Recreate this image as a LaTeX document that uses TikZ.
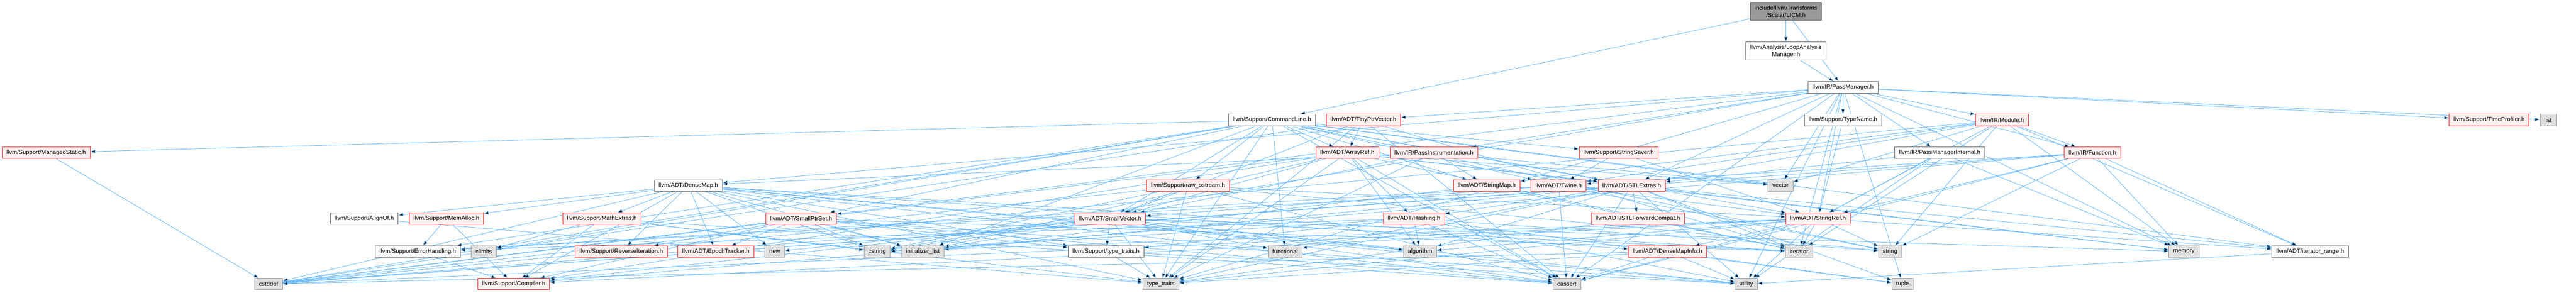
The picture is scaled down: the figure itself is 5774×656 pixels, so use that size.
\documentclass[tikz,border=0pt]{standalone}
\usepackage{fontspec}
\setmainfont{Liberation Sans}
\usepackage{xcolor}
\usetikzlibrary{arrows.meta,backgrounds}

\definecolor{depblue}{HTML}{63B8FF}
\definecolor{hdrborder}{HTML}{666666}
\definecolor{sysborder}{HTML}{999999}
\definecolor{sysfill}{HTML}{E0E0E0}
\definecolor{truncfill}{HTML}{FFF0F0}

\tikzset{
  hdr/.style={draw=hdrborder, fill=white, line width=0.75pt, inner xsep=7.3pt, inner ysep=0pt,
    minimum height=19.5pt, font=\fontsize{10}{12}\selectfont},
  hdrtrunc/.style={hdr, draw=red!85!white, fill=truncfill},
  syshdr/.style={hdr, draw=sysborder, fill=sysfill},
  roothdr/.style={hdr, fill=sysborder},
  twoline/.style={align=center, minimum height=30.75pt},
  dep/.style={draw=depblue, line width=0.75pt, -{Triangle[length=8pt,width=6pt]}}
}

\begin{document}
\begin{tikzpicture}[x=0.75pt,y=-0.75pt]
\useasboundingbox (0,0) rectangle (5774,656);

\node (licm) at (4003,25.5) [roothdr, twoline] {include/llvm/Transforms\\/Scalar/LICM.h};
\node (lam) at (4003,114.5) [hdr, twoline] {llvm/Analysis/LoopAnalysis\\Manager.h};
\node (pm) at (4131,196) [hdr] {llvm/IR/PassManager.h};

\node (cmdline) at (2851,269) [hdr] {llvm/Support/CommandLine.h};
\node (tinyptr) at (3056,269) [hdrtrunc] {llvm/ADT/TinyPtrVector.h};
\node (typename) at (4131,269) [hdr] {llvm/Support/TypeName.h};
\node (module) at (4487,269) [hdrtrunc] {llvm/IR/Module.h};
\node (timeprof) at (5579,269) [hdrtrunc] {llvm/Support/TimeProfiler.h};
\node (list) at (5711,269) [syshdr] {list};

\node (managedstatic) at (103.5,342.5) [hdrtrunc] {llvm/Support/ManagedStatic.h};
\node (arrayref) at (3020,342.5) [hdrtrunc] {llvm/ADT/ArrayRef.h};
\node (passinstr) at (3214,342.5) [hdrtrunc] {llvm/IR/PassInstrumentation.h};
\node (stringsaver) at (3628,342.5) [hdrtrunc] {llvm/Support/StringSaver.h};
\node (pminternal) at (4348,342.5) [hdr] {llvm/IR/PassManagerInternal.h};
\node (function) at (4690,342.5) [hdrtrunc] {llvm/IR/Function.h};

\node (densemap) at (1543,416) [hdr] {llvm/ADT/DenseMap.h};
\node (rawostream) at (2663,416) [hdrtrunc] {llvm/Support/raw\_ostream.h};
\node (stringmap) at (3332.5,416) [hdrtrunc] {llvm/ADT/StringMap.h};
\node (twine) at (3493.5,416) [hdrtrunc] {llvm/ADT/Twine.h};
\node (stlextras) at (3657.5,416) [hdrtrunc] {llvm/ADT/STLExtras.h};
\node (vector) at (3991,416) [syshdr] {vector};

\node (alignof) at (816.5,490) [hdr] {llvm/Support/AlignOf.h};
\node (memalloc) at (1000.5,490) [hdrtrunc] {llvm/Support/MemAlloc.h};
\node (mathextras) at (1349,490) [hdrtrunc] {llvm/Support/MathExtras.h};
\node (smallptrset) at (1795.5,490) [hdrtrunc] {llvm/ADT/SmallPtrSet.h};
\node (smallvector) at (2488.5,490) [hdrtrunc] {llvm/ADT/SmallVector.h};
\node (hashing) at (3169.5,490) [hdrtrunc] {llvm/ADT/Hashing.h};
\node (stlfwd) at (3671,490) [hdrtrunc] {llvm/ADT/STLForwardCompat.h};
\node (stringref) at (4075,490) [hdrtrunc] {llvm/ADT/StringRef.h};

\node (errorhandling) at (936.5,564) [hdr] {llvm/Support/ErrorHandling.h};
\node (climits) at (1084.5,564) [syshdr] {climits};
\node (reverseiter) at (1392.5,564) [hdrtrunc] {llvm/Support/ReverseIteration.h};
\node (epoch) at (1604.5,564) [hdrtrunc] {llvm/ADT/EpochTracker.h};
\node (new) at (1736.5,564) [syshdr] {new};
\node (cstring) at (1966,564) [syshdr] {cstring};
\node (initlist) at (2068.5,564) [syshdr] {initializer\_list};
\node (suptypetraits) at (2479,564) [hdr] {llvm/Support/type\_traits.h};
\node (functional) at (2880.5,564) [syshdr] {functional};
\node (algorithm) at (3183,564) [syshdr] {algorithm};
\node (densemapinfo) at (3737.5,564) [hdrtrunc] {llvm/ADT/DenseMapInfo.h};
\node (iterator) at (4032.5,564) [syshdr] {iterator};
\node (string) at (4236.5,564) [syshdr] {string};
\node (memory) at (4895,564) [syshdr] {memory};
\node (iterrange) at (5178,564) [hdr] {llvm/ADT/iterator\_range.h};

\node (cstddef) at (602,637) [syshdr] {cstddef};
\node (compiler) at (1151.5,637) [hdrtrunc] {llvm/Support/Compiler.h};
\node (typetraits) at (2602,637) [syshdr] {type\_traits};
\node (cassert) at (3512,637) [syshdr] {cassert};
\node (utility) at (3914,637) [syshdr] {utility};
\node (tuple) at (4264.5,637) [syshdr] {tuple};

\begin{scope}[on background layer]
\draw[dep] (licm) edge (lam) edge (pm) edge (cmdline);
\draw[dep] (lam) edge (pm);
\draw[dep] (pm) edge (densemap) edge (stlextras) edge (smallptrset) edge (stringref) edge (tinyptr) edge (function) edge (module) edge (passinstr) edge (pminternal) edge (timeprof) edge (typename) edge (cassert) edge (cstring) edge (iterator) edge (list) edge (memory) edge (tuple) edge (typetraits) edge (utility) edge (vector);
\draw[dep] (cmdline) edge (arrayref) edge (stlextras) edge (smallptrset) edge (smallvector) edge (stringmap) edge (stringref) edge (twine) edge (iterrange) edge (errorhandling) edge (managedstatic) edge (stringsaver) edge (rawostream) edge (cassert) edge (climits) edge (cstddef) edge (functional) edge (initlist) edge (string) edge (typetraits) edge (vector);
\draw[dep] (tinyptr) edge (arrayref) edge (smallvector) edge (cassert) edge (cstddef) edge (iterator) edge (typetraits);
\draw[dep] (typename) edge (stringref);
\draw[dep] (module) edge (stlextras) edge (stringmap) edge (stringref) edge (twine) edge (iterrange) edge (function) edge (cstddef) edge (iterator) edge (memory) edge (string) edge (vector);
\draw[dep] (managedstatic) edge (cstddef);
\draw[dep] (arrayref) edge (hashing) edge (smallvector) edge (stlextras) edge (compiler) edge (algorithm) edge (cassert) edge (cstddef) edge (initlist) edge (iterator) edge (memory) edge (typetraits) edge (vector);
\draw[dep] (passinstr) edge (densemap) edge (smallvector) edge (stringmap) edge (typetraits) edge (vector);
\draw[dep] (stringsaver) edge (stringref) edge (twine);
\draw[dep] (pminternal) edge (stlextras) edge (stringref) edge (memory) edge (utility);
\draw[dep] (function) edge (stringref) edge (twine) edge (iterrange) edge (compiler) edge (cassert) edge (cstddef) edge (memory) edge (string);
\draw[dep] (densemap) edge (densemapinfo) edge (epoch) edge (alignof) edge (compiler) edge (mathextras) edge (memalloc) edge (reverseiter) edge (suptypetraits) edge (algorithm) edge (cassert) edge (cstddef) edge (cstring) edge (initlist) edge (iterator) edge (new) edge (typetraits) edge (utility);
\draw[dep] (rawostream) edge (smallvector) edge (stringref) edge (cassert) edge (cstddef) edge (cstring) edge (string) edge (typetraits);
\draw[dep] (stringmap) edge (initlist) edge (iterator);
\draw[dep] (twine) edge (smallvector) edge (stringref) edge (errorhandling) edge (cassert) edge (string);
\draw[dep] (stlextras) edge (hashing) edge (stlfwd) edge (iterrange) edge (errorhandling) edge (algorithm) edge (cassert) edge (cstddef) edge (functional) edge (initlist) edge (iterator) edge (memory) edge (tuple) edge (typetraits) edge (utility);
\draw[dep] (alignof) edge (typetraits);
\draw[dep] (memalloc) edge (compiler) edge (errorhandling);
\draw[dep] (mathextras) edge (compiler) edge (cassert) edge (climits) edge (cstring) edge (typetraits);
\draw[dep] (smallptrset) edge (epoch) edge (compiler) edge (reverseiter) edge (suptypetraits) edge (cassert) edge (cstddef) edge (cstring) edge (initlist) edge (iterator) edge (utility);
\draw[dep] (smallvector) edge (compiler) edge (suptypetraits) edge (algorithm) edge (cassert) edge (cstddef) edge (cstring) edge (functional) edge (initlist) edge (iterator) edge (memory) edge (new) edge (typetraits) edge (utility);
\draw[dep] (hashing) edge (errorhandling) edge (suptypetraits) edge (algorithm) edge (cassert) edge (cstring) edge (string) edge (tuple) edge (utility);
\draw[dep] (stlfwd) edge (typetraits);
\draw[dep] (stringref) edge (densemapinfo) edge (iterrange) edge (compiler) edge (algorithm) edge (cassert) edge (cstddef) edge (cstring) edge (iterator) edge (string) edge (typetraits) edge (utility);
\draw[dep] (errorhandling) edge (compiler);
\draw[dep] (suptypetraits) edge (typetraits) edge (utility);
\draw[dep] (densemapinfo) edge (cassert) edge (cstddef) edge (tuple) edge (typetraits) edge (utility);
\draw[dep] (iterrange) edge (utility);
\end{scope}
\end{tikzpicture}
\end{document}
